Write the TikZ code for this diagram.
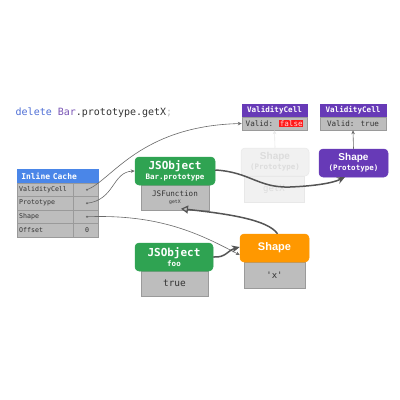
\documentclass[tikz,border=0pt]{standalone}
\usepackage{fontspec}
\setmainfont{Liberation Sans}
\newfontfamily\mono{DejaVu Sans Mono}
\usetikzlibrary{arrows.meta}
\definecolor{icblue}{HTML}{4A86E8}
\definecolor{vpurple}{HTML}{673AB7}
\definecolor{jgreen}{HTML}{2FA352}
\definecolor{sorange}{HTML}{FF9800}
\definecolor{bgray}{HTML}{BDBDBD}
\definecolor{bline}{HTML}{9A9A9A}
\definecolor{ctext}{HTML}{333333}
\definecolor{cline}{HTML}{6A6A6A}
\definecolor{thick}{HTML}{555555}
\definecolor{gfill}{HTML}{F1F1F1}
\definecolor{gline}{HTML}{E8E8E8}
\definecolor{gtext}{HTML}{DCDCDC}
\definecolor{kwblue}{HTML}{4F6FD6}
\definecolor{kwpurple}{HTML}{7A55B5}
\definecolor{redhl}{HTML}{FF1A1A}
\tikzset{
  cell/.style={rectangle, draw=bline, fill=bgray, inner sep=0pt, text=ctext, line width=0.5pt},
  hdr/.style={rectangle, inner sep=0pt, text=white, line width=0.5pt},
  obj/.style={rectangle, rounded corners=4pt, inner sep=0pt, text=white, align=center, line width=0.5pt},
  thinarrow/.style={draw=cline, line width=0.6pt, -{Stealth[length=4pt,width=3.5pt]}},
  thickarrow/.style={draw=thick, line width=1.5pt, -{Stealth[length=8pt,width=7pt]}},
  dotmark/.style={circle, fill=cline, inner sep=0pt, minimum size=2.2pt}
}
\setlength{\fboxsep}{0.6pt}
\begin{document}
\begin{tikzpicture}[x=1pt,y=-1pt]
\useasboundingbox[fill=white] (0,0) rectangle (400,400);

% code text
\node[anchor=west, inner sep=0pt, font=\mono\fontsize{10}{12}\selectfont, text=ctext] (code) at (15.5,113)
  {\textcolor{kwblue}{delete} \textcolor{kwpurple}{Bar}.prototype.getX\textcolor{bgray}{;}};

% Inline cache
\node[hdr, fill=icblue, draw=icblue, minimum width=81pt, minimum height=14pt, font=\mono\bfseries\fontsize{8}{9}\selectfont, anchor=west, text width=77pt] (ich) at (17,176) {\hspace*{2pt}Inline Cache};
\foreach \nm/\lab/\yy in {v/ValidityCell/189.75, p/Prototype/203.25, s/Shape/216.75, o/Offset/230.25}{
  \node[cell, minimum width=56pt, minimum height=13.5pt, anchor=west, font=\mono\fontsize{6.6}{8}\selectfont, text width=52pt] (icl\nm) at (17,\yy) {\lab};
  \node[cell, minimum width=25pt, minimum height=13.5pt, anchor=west] (icr\nm) at (73,\yy) {};
}
\node[inner sep=0pt, font=\mono\fontsize{6.6}{8}\selectfont, text=ctext] (zero) at (87,230.25) {0};
\node[dotmark] (dotV) at (87,189.75) {};
\node[dotmark] (dotP) at (87,203.25) {};
\node[dotmark] (dotS) at (87,216.75) {};

% Validity cells
\node[hdr, fill=vpurple, draw=vpurple, minimum width=65pt, minimum height=13pt, font=\mono\bfseries\fontsize{7.6}{9}\selectfont] (vc1h) at (274.5,110.5) {ValidityCell};
\node[cell, minimum width=65pt, minimum height=13pt, font=\mono\fontsize{7.6}{9}\selectfont] (vc1b) at (274.5,123.5) {Valid: \colorbox{redhl}{\textcolor{white!85!red}{false}}};
\node[hdr, fill=vpurple, draw=vpurple, minimum width=66pt, minimum height=13pt, font=\mono\bfseries\fontsize{7.6}{9}\selectfont] (vc2h) at (353,110.5) {ValidityCell};
\node[cell, minimum width=66pt, minimum height=13pt, font=\mono\fontsize{7.6}{9}\selectfont] (vc2b) at (353,123.5) {Valid: true};

% ghost shape
\node[rectangle, fill=gfill, draw=gline, minimum width=60pt, minimum height=26pt, inner sep=0pt, text=gtext, font=\mono\fontsize{9}{10}\selectfont] (ghostb) at (274,189) {getX};
\node[obj, fill=gfill, draw=gline, minimum width=68pt, minimum height=28pt, text=gtext] (ghost) at (275,162)
  {{\bfseries\fontsize{10}{11}\selectfont Shape}\\[-2pt]{\mono\bfseries\fontsize{7.5}{8}\selectfont (Prototype)}};

% purple shape
\node[obj, fill=vpurple, draw=vpurple, minimum width=69pt, minimum height=28pt] (pshape) at (353.5,163)
  {{\bfseries\fontsize{10}{11}\selectfont Shape}\\[-2pt]{\mono\bfseries\fontsize{7.5}{8}\selectfont (Prototype)}};

% JSObject Bar.prototype
\node[cell, minimum width=68pt, minimum height=25pt, align=center, font=\mono\fontsize{7.6}{8}\selectfont] (jsf) at (175,197.5)
  {JSFunction\\[-1pt]{\fontsize{4.8}{5}\selectfont getX}};
\node[obj, fill=jgreen, draw=jgreen, minimum width=80pt, minimum height=28pt] (bar) at (175,171)
  {{\mono\bfseries\fontsize{11}{12}\selectfont JSObject}\\[-2pt]{\mono\bfseries\fontsize{7.5}{8}\selectfont Bar.prototype}};

% JSObject foo
\node[cell, minimum width=67pt, minimum height=25pt, font=\mono\fontsize{9.5}{10}\selectfont] (foob) at (174.5,283.5) {true};
\node[obj, fill=jgreen, draw=jgreen, minimum width=78pt, minimum height=28pt] (foo) at (174,257)
  {{\mono\bfseries\fontsize{11}{12}\selectfont JSObject}\\[-2pt]{\mono\bfseries\fontsize{7.5}{8}\selectfont foo}};

% orange shape
\node[cell, minimum width=61pt, minimum height=26pt, font=\mono\fontsize{9}{10}\selectfont] (shb) at (274.5,275) {'x'};
\node[obj, fill=sorange, draw=sorange, minimum width=69pt, minimum height=28pt, font=\bfseries\fontsize{11}{12}\selectfont] (shape) at (274.5,248) {Shape};

% connectors
\draw[thinarrow] (dotV.center) .. controls (112,180) and (140,126) .. (vc1b.west);
\draw[thinarrow] (dotP.center) .. controls (115,200) and (112,172) .. (bar.west);
\draw[thinarrow] (dotS.center) .. controls (160,214) and (200,234) .. ([yshift=-7pt]shape.west);
\draw[thickarrow] (foo.east) .. controls (226,258) and (228,250) .. ([yshift=1pt]shape.west);
\draw[draw=thick, line width=1.5pt, -{Triangle[open, length=7pt, width=8pt, line width=1.2pt]}]
  ([xshift=3pt]shape.north) .. controls (268,220) and (230,214) .. ([xshift=6pt,yshift=1.5pt]jsf.south);
\coordinate (pin) at (345,177);
\draw[thickarrow] ([yshift=1pt]bar.east) .. controls (250,172) and (258,188) .. (290,187) .. controls (315,186) and (333,183) .. (pin);
\draw[thinarrow] (pshape.north) -- (vc2b.south);
\draw[draw=gline, line width=0.6pt, -{Stealth[length=4pt,width=3.5pt]}] (ghost.north) -- (vc1b.south);
\end{tikzpicture}
\end{document}
